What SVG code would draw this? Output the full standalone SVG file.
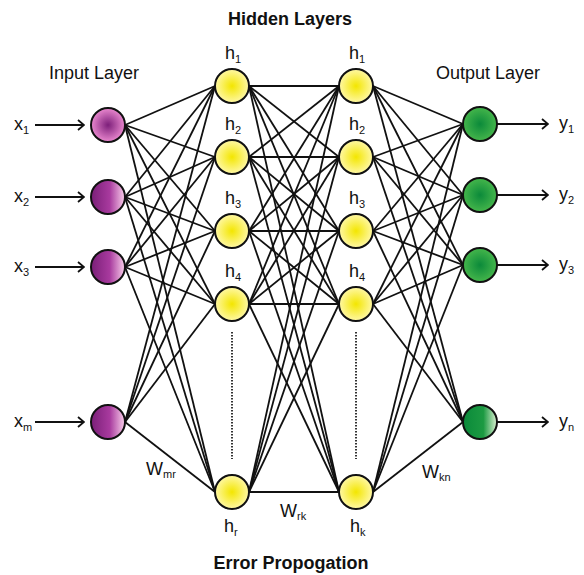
<svg xmlns="http://www.w3.org/2000/svg" width="584" height="575" viewBox="0 0 584 575">
<style>
.t{font-family:"Liberation Sans",Arial,sans-serif;fill:#111}
.title{font-size:18px;font-weight:bold}
.lab{font-size:18px}
.var{font-size:18px}
.sub{font-size:11px}
.node{stroke:#111;stroke-width:2}
.c line{stroke:#111;stroke-width:1.8}
.arr{stroke:#111;stroke-width:1.8;fill:none}
.dot{stroke:#333;stroke-width:2;stroke-dasharray:1.5 1.5}
</style>
<defs>
<radialGradient id="gPR"><stop offset="0" stop-color="#7d1f7a"/><stop offset="1" stop-color="#ea88cf"/></radialGradient>
<linearGradient id="gPL" x1="0" y1="0" x2="1" y2="0"><stop offset="0" stop-color="#7a1f78"/><stop offset="0.55" stop-color="#a83a9e"/><stop offset="1" stop-color="#fbd0ec"/></linearGradient>
<radialGradient id="gY"><stop offset="0" stop-color="#f3e600"/><stop offset="1" stop-color="#fff8a6"/></radialGradient>
<radialGradient id="gGR"><stop offset="0" stop-color="#0b8a3a"/><stop offset="1" stop-color="#45b64b"/></radialGradient>
<linearGradient id="gGL" x1="0" y1="0" x2="1" y2="0"><stop offset="0" stop-color="#0a8a3a"/><stop offset="0.6" stop-color="#1c9a42"/><stop offset="1" stop-color="#dcf1d2"/></linearGradient>
<marker id="ah" markerWidth="10" markerHeight="12" refX="9" refY="6" orient="auto" markerUnits="userSpaceOnUse"><path d="M3,1 L9,6 L3,11" fill="none" stroke="#111" stroke-width="1.8"/></marker>
</defs>
<rect width="584" height="575" fill="#fff"/>

<text class="t title" x="290" y="25" text-anchor="middle">Hidden Layers</text>
<text class="t lab" x="94" y="79" text-anchor="middle">Input Layer</text>
<text class="t lab" x="488" y="79" text-anchor="middle">Output Layer</text>
<text class="t title" x="291" y="569" text-anchor="middle">Error Propogation</text>

<g id="connectors" class="c">
<line x1="125" y1="125" x2="215" y2="86"/><line x1="125" y1="125" x2="215" y2="157"/><line x1="125" y1="125" x2="215" y2="231"/><line x1="125" y1="125" x2="215" y2="304"/><line x1="125" y1="125" x2="215" y2="492"/>
<line x1="125" y1="197" x2="215" y2="86"/><line x1="125" y1="197" x2="215" y2="157"/><line x1="125" y1="197" x2="215" y2="231"/><line x1="125" y1="197" x2="215" y2="304"/><line x1="125" y1="197" x2="215" y2="492"/>
<line x1="125" y1="267" x2="215" y2="86"/><line x1="125" y1="267" x2="215" y2="157"/><line x1="125" y1="267" x2="215" y2="231"/><line x1="125" y1="267" x2="215" y2="304"/><line x1="125" y1="267" x2="215" y2="492"/>
<line x1="125" y1="422" x2="215" y2="86"/><line x1="125" y1="422" x2="215" y2="157"/><line x1="125" y1="422" x2="215" y2="231"/><line x1="125" y1="422" x2="215" y2="304"/><line x1="125" y1="422" x2="215" y2="492"/>

<line x1="249" y1="86" x2="339" y2="86"/><line x1="249" y1="86" x2="339" y2="157"/><line x1="249" y1="86" x2="339" y2="231"/><line x1="249" y1="86" x2="339" y2="304"/><line x1="249" y1="86" x2="339" y2="492"/>
<line x1="249" y1="157" x2="339" y2="86"/><line x1="249" y1="157" x2="339" y2="157"/><line x1="249" y1="157" x2="339" y2="231"/><line x1="249" y1="157" x2="339" y2="304"/><line x1="249" y1="157" x2="339" y2="492"/>
<line x1="249" y1="231" x2="339" y2="86"/><line x1="249" y1="231" x2="339" y2="157"/><line x1="249" y1="231" x2="339" y2="231"/><line x1="249" y1="231" x2="339" y2="304"/><line x1="249" y1="231" x2="339" y2="492"/>
<line x1="249" y1="304" x2="339" y2="86"/><line x1="249" y1="304" x2="339" y2="157"/><line x1="249" y1="304" x2="339" y2="231"/><line x1="249" y1="304" x2="339" y2="304"/><line x1="249" y1="304" x2="339" y2="492"/>
<line x1="249" y1="492" x2="339" y2="86"/><line x1="249" y1="492" x2="339" y2="157"/><line x1="249" y1="492" x2="339" y2="231"/><line x1="249" y1="492" x2="339" y2="304"/><line x1="249" y1="492" x2="339" y2="492"/>

<line x1="373" y1="86" x2="463" y2="124"/><line x1="373" y1="86" x2="463" y2="195"/><line x1="373" y1="86" x2="463" y2="265"/><line x1="373" y1="86" x2="463" y2="422"/>
<line x1="373" y1="157" x2="463" y2="124"/><line x1="373" y1="157" x2="463" y2="195"/><line x1="373" y1="157" x2="463" y2="265"/><line x1="373" y1="157" x2="463" y2="422"/>
<line x1="373" y1="231" x2="463" y2="124"/><line x1="373" y1="231" x2="463" y2="195"/><line x1="373" y1="231" x2="463" y2="265"/><line x1="373" y1="231" x2="463" y2="422"/>
<line x1="373" y1="304" x2="463" y2="124"/><line x1="373" y1="304" x2="463" y2="195"/><line x1="373" y1="304" x2="463" y2="265"/><line x1="373" y1="304" x2="463" y2="422"/>
<line x1="373" y1="492" x2="463" y2="124"/><line x1="373" y1="492" x2="463" y2="195"/><line x1="373" y1="492" x2="463" y2="265"/><line x1="373" y1="492" x2="463" y2="422"/>

<line class="arr" x1="35" y1="125" x2="84" y2="125" marker-end="url(#ah)"/>
<line class="arr" x1="35" y1="197" x2="84" y2="197" marker-end="url(#ah)"/>
<line class="arr" x1="35" y1="267" x2="84" y2="267" marker-end="url(#ah)"/>
<line class="arr" x1="35" y1="422" x2="84" y2="422" marker-end="url(#ah)"/>
<line class="arr" x1="497" y1="124" x2="548" y2="124" marker-end="url(#ah)"/>
<line class="arr" x1="497" y1="195" x2="548" y2="195" marker-end="url(#ah)"/>
<line class="arr" x1="497" y1="265" x2="548" y2="265" marker-end="url(#ah)"/>
<line class="arr" x1="497" y1="422" x2="548" y2="422" marker-end="url(#ah)"/>
</g>

<line class="dot" x1="232" y1="332" x2="232" y2="459"/>
<line class="dot" x1="356" y1="332" x2="356" y2="459"/>

<g id="x1"><circle class="node" cx="108" cy="125" r="17" fill="url(#gPR)"/><text class="t var" x="14" y="130">x<tspan class="sub" dy="4">1</tspan></text></g>
<g id="x2"><circle class="node" cx="108" cy="197" r="17" fill="url(#gPL)"/><text class="t var" x="14" y="202">x<tspan class="sub" dy="4">2</tspan></text></g>
<g id="x3"><circle class="node" cx="108" cy="267" r="17" fill="url(#gPL)"/><text class="t var" x="14" y="272">x<tspan class="sub" dy="4">3</tspan></text></g>
<g id="xm"><circle class="node" cx="108" cy="422" r="17" fill="url(#gPL)"/><text class="t var" x="14" y="427">x<tspan class="sub" dy="4">m</tspan></text></g>

<g id="h1a"><circle class="node" cx="232" cy="86" r="17" fill="url(#gY)"/><text class="t var" x="225" y="59">h<tspan class="sub" dy="4">1</tspan></text></g>
<g id="h2a"><circle class="node" cx="232" cy="157" r="17" fill="url(#gY)"/><text class="t var" x="225" y="130">h<tspan class="sub" dy="4">2</tspan></text></g>
<g id="h3a"><circle class="node" cx="232" cy="231" r="17" fill="url(#gY)"/><text class="t var" x="225" y="204">h<tspan class="sub" dy="4">3</tspan></text></g>
<g id="h4a"><circle class="node" cx="232" cy="304" r="17" fill="url(#gY)"/><text class="t var" x="225" y="277">h<tspan class="sub" dy="4">4</tspan></text></g>
<g id="hr"><circle class="node" cx="232" cy="492" r="17" fill="url(#gY)"/><text class="t var" x="224" y="532">h<tspan class="sub" dy="4">r</tspan></text></g>

<g id="h1b"><circle class="node" cx="356" cy="86" r="17" fill="url(#gY)"/><text class="t var" x="349" y="59">h<tspan class="sub" dy="4">1</tspan></text></g>
<g id="h2b"><circle class="node" cx="356" cy="157" r="17" fill="url(#gY)"/><text class="t var" x="349" y="130">h<tspan class="sub" dy="4">2</tspan></text></g>
<g id="h3b"><circle class="node" cx="356" cy="231" r="17" fill="url(#gY)"/><text class="t var" x="349" y="204">h<tspan class="sub" dy="4">3</tspan></text></g>
<g id="h4b"><circle class="node" cx="356" cy="304" r="17" fill="url(#gY)"/><text class="t var" x="349" y="277">h<tspan class="sub" dy="4">4</tspan></text></g>
<g id="hk"><circle class="node" cx="356" cy="492" r="17" fill="url(#gY)"/><text class="t var" x="350" y="532">h<tspan class="sub" dy="4">k</tspan></text></g>

<g id="y1"><circle class="node" cx="480" cy="124" r="17" fill="url(#gGR)"/><text class="t var" x="559" y="129">y<tspan class="sub" dy="4">1</tspan></text></g>
<g id="y2"><circle class="node" cx="480" cy="195" r="17" fill="url(#gGR)"/><text class="t var" x="559" y="200">y<tspan class="sub" dy="4">2</tspan></text></g>
<g id="y3"><circle class="node" cx="480" cy="265" r="17" fill="url(#gGR)"/><text class="t var" x="559" y="270">y<tspan class="sub" dy="4">3</tspan></text></g>
<g id="yn"><circle class="node" cx="480" cy="422" r="17" fill="url(#gGL)"/><text class="t var" x="559" y="427">y<tspan class="sub" dy="4">n</tspan></text></g>

<text class="t var" x="146" y="475">W<tspan class="sub" dy="3">mr</tspan></text>
<text class="t var" x="280" y="517">W<tspan class="sub" dy="3">rk</tspan></text>
<text class="t var" x="422" y="478">W<tspan class="sub" dy="3">kn</tspan></text>
</svg>
